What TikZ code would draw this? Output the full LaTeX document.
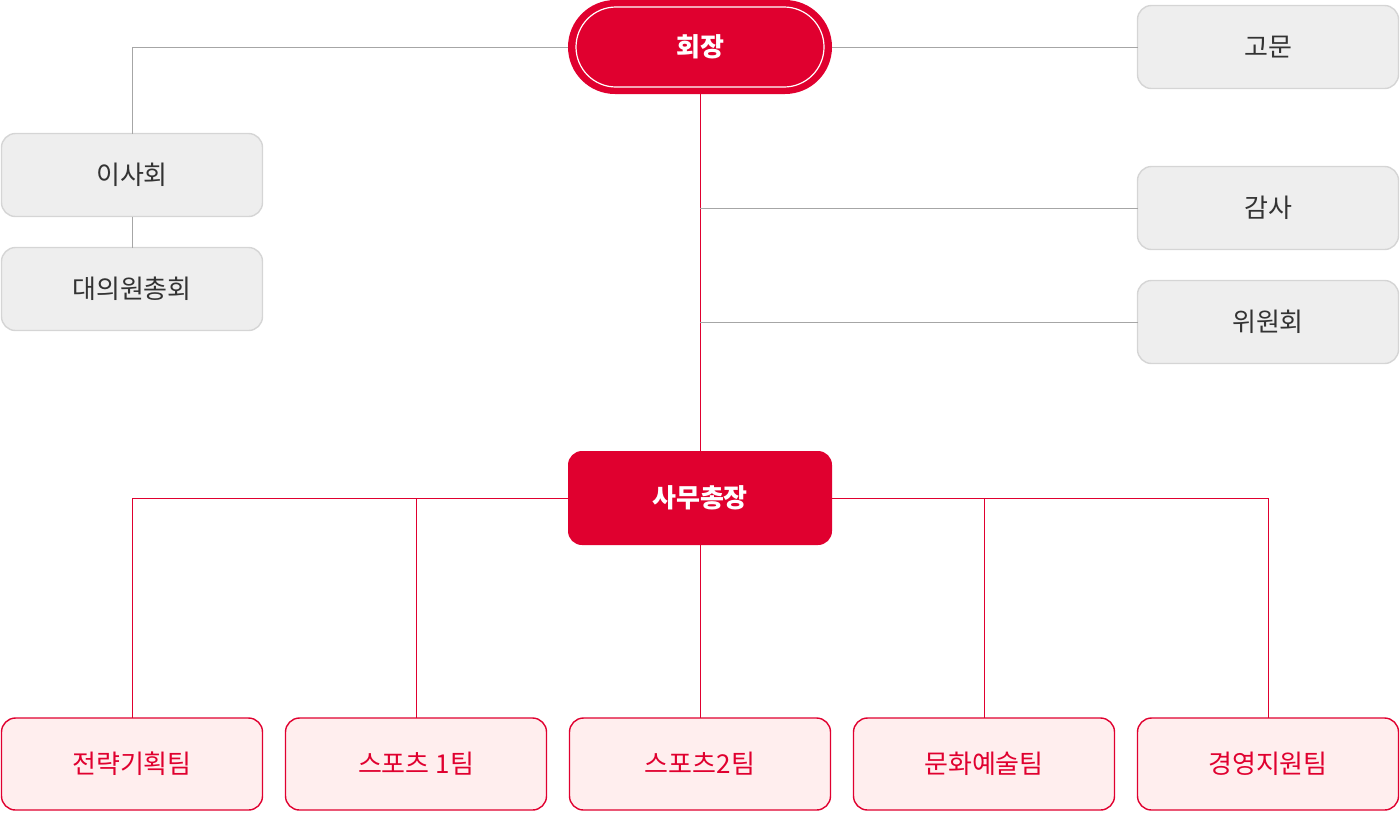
\documentclass[tikz,border=0pt]{standalone}
\usepackage{fontspec}
\setmainfont{Noto Sans CJK KR}
\usetikzlibrary{positioning,calc}
\definecolor{kred}{HTML}{E0002F}
\definecolor{kpink}{HTML}{FFEEEE}
\definecolor{kgray}{HTML}{EEEEEE}
\definecolor{kedge}{HTML}{D5D5D5}
\definecolor{ktext}{HTML}{333333}
\begin{document}
\begin{tikzpicture}[x=0.5pt, y=-0.5pt,
            every node/.style={inner sep=0pt, outer sep=0pt, font=\fontsize{13}{15}\selectfont},
            side/.style={draw=kedge, fill=kgray, line width=0.7pt, rounded corners=7pt,
                         minimum width=130.5pt, minimum height=41.5pt, text=ktext},
            team/.style={draw=kred, fill=kpink, line width=0.7pt, rounded corners=7pt,
                         minimum width=130.5pt, minimum height=46pt, text=kred},
            head/.style={fill=kred, text=white, font=\fontsize{13}{15}\selectfont\bfseries},
            gline/.style={draw=black!35, line width=0.5pt},
            rline/.style={draw=kred, line width=0.5pt}]
        \useasboundingbox (0,0) rectangle (1400,821);
        % top level
        \node[head, rounded corners=23.5pt, minimum width=132pt, minimum height=47pt](chair) at (700,47){};
        \node[draw=white, line width=0.6pt, rounded corners=20pt, minimum width=124pt,
              minimum height=40pt, text=white, font=\fontsize{13}{15}\selectfont\bfseries](chairIn) at (700,47){회장};
        \node[side](advisor) at (1268,47){고문};
        \node[side](board) at (132,175){이사회};
        \node[side](assembly) at (132,289){대의원총회};
        \node[side](audit) at (1268,208){감사};
        \node[side](committee) at (1268,322){위원회};
        \node[head, rounded corners=7pt, minimum width=132pt, minimum height=47pt](secgen) at (700,498){사무총장};
        % teams
        \node[team](strategy) at (132,764){전략기획팀};
        \node[team](sportsA) at (416,764){스포츠 1팀};
        \node[team](sportsB) at (700,764){스포츠2팀};
        \node[team](culture) at (984,764){문화예술팀};
        \node[team](support) at (1268,764){경영지원팀};

        \path[gline] (chair.west) -| (board.north);
        \path[gline] (board) -- (assembly);
        \path[gline] (chair.east) -- (advisor.west);
        \path[rline] (chair) -- (secgen);
        \path[gline] (audit.west) -- (audit.west -| chair.south);
        \path[gline] (committee.west) -- (committee.west -| chair.south);
        \path[rline] (secgen.west) -| (strategy.north);
        \path[rline] (secgen.west) -| (sportsA.north);
        \path[rline] (secgen.east) -| (culture.north);
        \path[rline] (secgen.east) -| (support.north);
        \path[rline] (secgen) -- (sportsB);
        \end{tikzpicture}
\end{document}
